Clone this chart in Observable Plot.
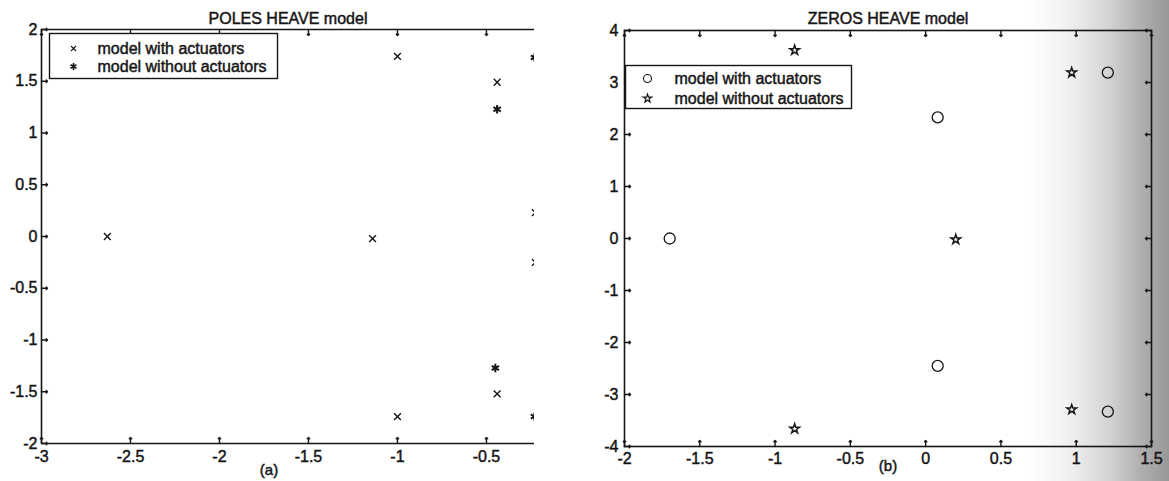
<!DOCTYPE html>
<html><head><meta charset="utf-8">
<script src="https://cdn.jsdelivr.net/npm/d3@7"></script>
<script src="https://cdn.jsdelivr.net/npm/@observablehq/plot@0.6"></script>
<style>
body{margin:0;background:#fff;}
#wrap{position:relative;width:1169px;height:481px;overflow:hidden;
 background:linear-gradient(to right,#fff 0px,#fff 1030px,#f0f0f0 1070px,#d2d2d2 1110px,#b0b0b0 1140px,#989898 1169px);}
#wrap svg{position:absolute;top:0;}
#wrap svg text{stroke:#151515;stroke-width:0.45px;}
</style></head>
<body><div id="wrap"></div>
<script>
// ---- data: (a) POLES HEAVE model ----
const polesWithX    = [-1.0, -0.44, -2.63, -1.14, -0.44, -1.0, -0.225, -0.225];
const polesWithY    = [1.74, 1.49, 0.0, -0.02, -1.52, -1.74, 0.23, -0.25];
const polesWithoutX = [-0.44, -0.45, -0.23, -0.23];
const polesWithoutY = [1.23, -1.27, 1.73, -1.74];
const xTicksA = [-3, -2.5, -2, -1.5, -1, -0.5];
const yTicksA = [-2, -1.5, -1, -0.5, 0, 0.5, 1, 1.5, 2];
const xDomainA = [-3, -0.23];
const yDomainA = [-2, 2];
// ---- data: (b) ZEROS HEAVE model ----
const zerosWithX    = [-1.70, 0.08, 0.08, 1.21, 1.21];
const zerosWithY    = [0.0, 2.33, -2.45, 3.19, -3.33];
const zerosWithoutX = [-0.87, -0.87, 0.97, 0.97, 0.2];
const zerosWithoutY = [3.62, -3.66, 3.19, -3.29, -0.02];
const xTicksB = [-2, -1.5, -1, -0.5, 0, 0.5, 1, 1.5];
const yTicksB = [-4, -3, -2, -1, 0, 1, 2, 3, 4];
const xDomainB = [-2, 1.5];
const yDomainB = [-4, 4];
const legendLabels = ["model with actuators", "model without actuators"];

const ink = "#151515";
const fmt = d => String(d);
const font = "'Liberation Sans', Arial, sans-serif";
const fs = 16;
const T = 6; // tick length (px), drawn inward

function tickMarks(xt, yt, sides, padX, padY) {
  const m = [];
  m.push(Plot.axisX(xt, {anchor: "bottom", tickSize: 0, tickPadding: padX, tickFormat: fmt, label: null, fontSize: fs, fill: ink}));
  m.push(Plot.axisY(yt, {anchor: "left", tickSize: 0, tickPadding: padY, tickFormat: fmt, label: null, fontSize: fs, fill: ink}));
  const o = {stroke: ink, strokeWidth: 1.4, anchor: "start", length: T};
  for (const s of sides) {
    if (s === "bottom") m.push(Plot.vector(xt, {x: d => d, frameAnchor: "bottom", rotate: 0, ...o}));
    if (s === "top") m.push(Plot.vector(xt, {x: d => d, frameAnchor: "top", rotate: 180, ...o}));
    if (s === "left") m.push(Plot.vector(yt, {y: d => d, frameAnchor: "left", rotate: 90, ...o}));
    if (s === "right") m.push(Plot.vector(yt, {y: d => d, frameAnchor: "right", rotate: -90, ...o}));
  }
  return m;
}

const left = Plot.plot({
  width: 540, height: 481,
  marginLeft: 41, marginRight: 6, marginTop: 29, marginBottom: 38,
  style: {background: "transparent", fontFamily: font, fontSize: fs + "px", color: ink},
  x: {domain: xDomainA},
  y: {domain: yDomainA},
  marks: [
    ...tickMarks(xTicksA, yTicksA, ["top", "bottom", "left"], 7, 4),
    Plot.ruleY(yDomainA, {stroke: ink, strokeWidth: 1.6}),
    Plot.ruleX([xDomainA[0]], {stroke: ink, strokeWidth: 1.6}),
    Plot.dot(polesWithX, {x: polesWithX, y: polesWithY, symbol: "times", r: 3.2, stroke: ink, strokeWidth: 1.4, clip: true}),
    Plot.dot(polesWithoutX, {x: polesWithoutX, y: polesWithoutY, symbol: "asterisk", r: 4, stroke: ink, strokeWidth: 2, clip: true}),
    Plot.text(["POLES HEAVE model"], {frameAnchor: "top", lineAnchor: "middle", dy: -11, fontSize: fs, fill: ink}),
    Plot.text(["(a)"], {frameAnchor: "bottom", lineAnchor: "middle", dx: -19, dy: 27, fontSize: 15, fill: ink}),
    // legend
    Plot.frame({insetLeft: 8, insetTop: 4, insetRight: 257, insetBottom: 365, stroke: ink, fill: "white", strokeWidth: 1.4}),
    Plot.dot([0], {frameAnchor: "top-left", dx: 32, dy: 19, symbol: "times", r: 2.4, stroke: ink, strokeWidth: 1.1}),
    Plot.dot([0], {frameAnchor: "top-left", dx: 32, dy: 37, symbol: "asterisk", r: 3.2, stroke: ink, strokeWidth: 1.6}),
    Plot.text([legendLabels[0]], {frameAnchor: "top-left", lineAnchor: "middle", dx: 56, dy: 19, textAnchor: "start", fontSize: fs, fill: ink}),
    Plot.text([legendLabels[1]], {frameAnchor: "top-left", lineAnchor: "middle", dx: 56, dy: 37, textAnchor: "start", fontSize: fs, fill: ink})
  ]
});
left.style.left = "0px";

const right = Plot.plot({
  width: 629, height: 481,
  marginLeft: 84, marginRight: 18, marginTop: 30, marginBottom: 35,
  style: {background: "transparent", fontFamily: font, fontSize: fs + "px", color: ink},
  x: {domain: xDomainB},
  y: {domain: yDomainB},
  marks: [
    ...tickMarks(xTicksB, yTicksB, ["top", "bottom", "left", "right"], 6, 6),
    Plot.frame({stroke: ink, strokeWidth: 1.6}),
    Plot.dot(zerosWithX, {x: zerosWithX, y: zerosWithY, symbol: "circle", r: 5.5, stroke: ink, strokeWidth: 1.3}),
    Plot.dot(zerosWithoutX, {x: zerosWithoutX, y: zerosWithoutY, symbol: "star", r: 3, stroke: ink, strokeWidth: 1.5}),
    Plot.text(["ZEROS HEAVE model"], {frameAnchor: "top", lineAnchor: "middle", dy: -12, fontSize: fs, fill: ink}),
    Plot.text(["(b)"], {frameAnchor: "bottom", lineAnchor: "middle", dx: 0, dy: 20, fontSize: 15, fill: ink}),
    // legend
    Plot.frame({insetLeft: 1, insetTop: 35, insetRight: 300, insetBottom: 338, stroke: ink, fill: "white", strokeWidth: 1.4}),
    Plot.dot([0], {frameAnchor: "top-left", dx: 23, dy: 48, symbol: "circle", r: 4, stroke: ink, strokeWidth: 1.1}),
    Plot.dot([0], {frameAnchor: "top-left", dx: 23, dy: 68, symbol: "star", r: 2.6, stroke: ink, strokeWidth: 1.2}),
    Plot.text([legendLabels[0]], {frameAnchor: "top-left", lineAnchor: "middle", dx: 50, dy: 48, textAnchor: "start", fontSize: fs, fill: ink}),
    Plot.text([legendLabels[1]], {frameAnchor: "top-left", lineAnchor: "middle", dx: 50, dy: 68, textAnchor: "start", fontSize: fs, fill: ink})
  ]
});
right.style.left = "540px";

const wrap = document.getElementById("wrap");
wrap.appendChild(left);
wrap.appendChild(right);
</script>
</body></html>
